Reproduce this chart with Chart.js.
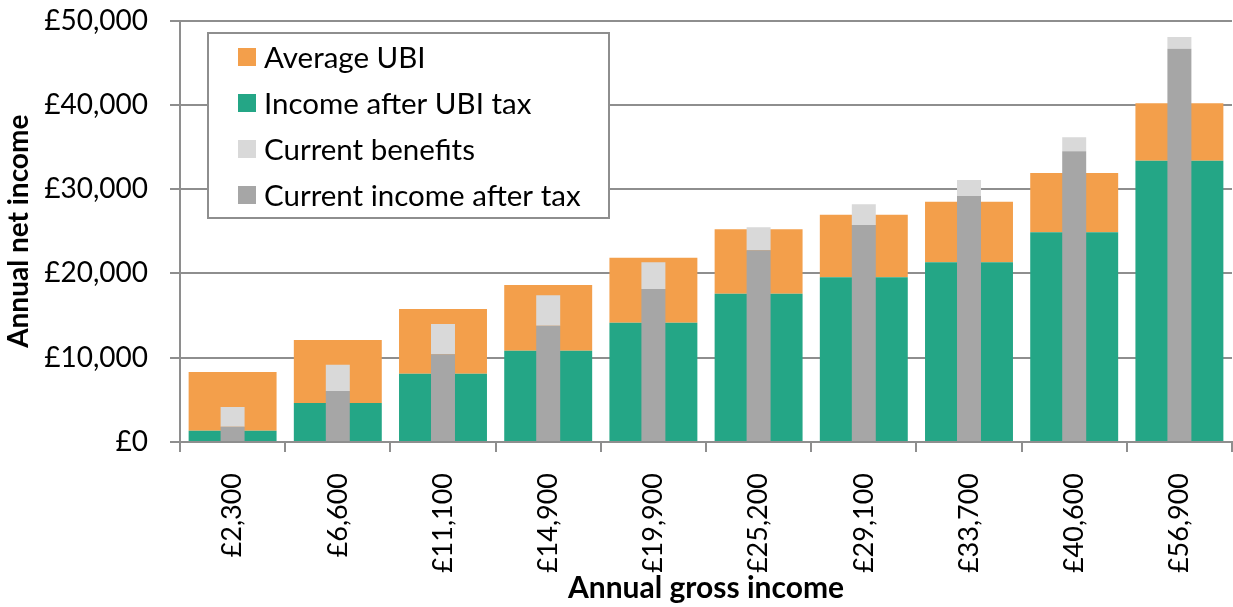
<!DOCTYPE html>
<html>
<head>
<meta charset="utf-8">
<script src="https://cdn.jsdelivr.net/npm/chart.js@4/dist/chart.umd.min.js"></script>
<style>
  html, body { margin: 0; padding: 0; background: #fff; }
  #wrap { width: 1233px; height: 607px; }
</style>
</head>
<body>
<div id="wrap"><canvas id="c" width="1233" height="607"></canvas></div>
<script>
const categories = ['£2,300', '£6,600', '£11,100', '£14,900', '£19,900', '£25,200', '£29,100', '£33,700', '£40,600', '£56,900'];
const incomeAfterUbiTax = [1340, 4630, 8100, 10830, 14150, 17600, 19540, 21310, 24870, 33370];
const averageUbi = [6960, 7470, 7680, 7790, 7710, 7630, 7420, 7190, 7040, 6810];
const currentIncomeAfterTax = [1800, 6050, 10400, 13800, 18150, 22740, 25740, 29180, 34480, 46650];
const currentBenefits = [2350, 3120, 3600, 3600, 3160, 2730, 2460, 1900, 1660, 1390];
const yTickValues = [0, 10000, 20000, 30000, 40000, 50000];
const yTitle = 'Annual net income';
const xTitle = 'Annual gross income';

const AXIS = '#8e8e8e';
const FONT = 'Lato';

const legendOrder = [3, 2, 1, 0];

const legendBox = {
  id: 'legendBox',
  afterDatasetsDraw(chart) {
    const ctx = chart.ctx;
    ctx.save();
    ctx.fillStyle = '#ffffff';
    ctx.fillRect(208, 33, 401, 185);
    ctx.strokeStyle = AXIS;
    ctx.lineWidth = 2;
    ctx.strokeRect(208, 33, 401, 185);
    ctx.font = '29.5px ' + FONT;
    ctx.textBaseline = 'middle';
    ctx.textAlign = 'left';
    legendOrder.forEach((di, i) => {
      const ds = chart.data.datasets[di];
      const cy = 57 + i * 46;
      ctx.fillStyle = ds.backgroundColor;
      ctx.fillRect(238, cy - 9, 18, 18);
      ctx.fillStyle = '#000';
      ctx.fillText(ds.label, 264, cy + 1);
    });
    ctx.restore();
  }
};

new Chart(document.getElementById('c'), {
  type: 'bar',
  data: {
    labels: categories,
    datasets: [
      { label: 'Current income after tax', data: currentIncomeAfterTax, backgroundColor: '#a6a6a6',
        xAxisID: 'x2', stack: 'current', grouped: false, barPercentage: 0.228, categoryPercentage: 1 },
      { label: 'Current benefits', data: currentBenefits, backgroundColor: '#d9d9d9',
        xAxisID: 'x2', stack: 'current', grouped: false, barPercentage: 0.228, categoryPercentage: 1 },
      { label: 'Income after UBI tax', data: incomeAfterUbiTax, backgroundColor: '#24a686',
        xAxisID: 'x', stack: 'ubi', grouped: false, barPercentage: 0.836, categoryPercentage: 1 },
      { label: 'Average UBI', data: averageUbi, backgroundColor: '#f39f4b',
        xAxisID: 'x', stack: 'ubi', grouped: false, barPercentage: 0.836, categoryPercentage: 1 }
    ]
  },
  options: {
    responsive: false,
    animation: false,
    layout: { padding: { top: 20.5, right: 1, left: 0, bottom: 0 } },
    plugins: { legend: { display: false }, tooltip: { enabled: false } },
    scales: {
      x: {
        offset: true,
        grid: { offset: true, drawOnChartArea: false, drawTicks: true, tickLength: 10, color: AXIS, lineWidth: 2 },
        border: { display: true, color: AXIS, width: 2 },
        ticks: { color: '#000', font: { family: FONT, size: 27 }, minRotation: 90, maxRotation: 90, padding: 21, autoSkip: false },
        title: { display: true, text: xTitle, color: '#000', font: { family: FONT, size: 30, weight: 'bold' }, padding: { top: 0, bottom: 1 } },
        afterFit(scale) { scale.height = 165; }
      },
      x2: {
        type: 'category',
        labels: categories,
        offset: true,
        display: false,
        grid: { display: false }
      },
      y: {
        stacked: true,
        min: 0,
        max: 50000,
        afterBuildTicks(scale) { scale.ticks = yTickValues.map(v => ({ value: v })); },
        grid: { color: AXIS, lineWidth: 2, tickLength: 10, drawTicks: true },
        border: { display: true, color: AXIS, width: 2 },
        ticks: {
          color: '#000', font: { family: FONT, size: 28 }, padding: 22,
          callback: v => '£' + Number(v).toLocaleString('en-GB')
        },
        title: { display: true, text: yTitle, color: '#000', font: { family: FONT, size: 28, weight: 'bold' }, padding: { top: 2, bottom: 0 } },
        afterFit(scale) { scale.width = 180; scale.paddingTop = 0; scale.paddingBottom = 0; }
      }
    }
  },
  plugins: [legendBox]
});
</script>
</body>
</html>
